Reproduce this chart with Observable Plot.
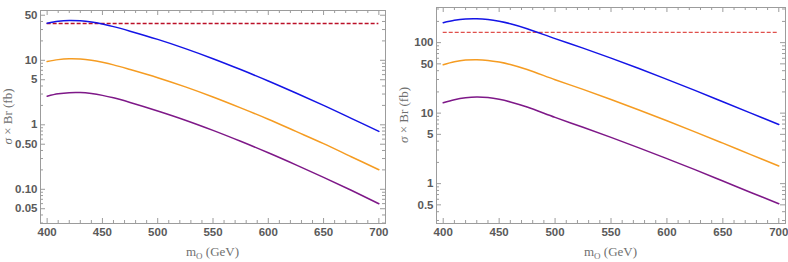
<!DOCTYPE html>
<html>
<head>
<meta charset="utf-8">
<script src="https://cdn.jsdelivr.net/npm/d3@7"></script>
<script src="https://cdn.jsdelivr.net/npm/@observablehq/plot@0.6"></script>
<style>
  body { margin: 0; background: #fff; }
  #row { display: flex; width: 788px; height: 262px; overflow: hidden; }
  #row svg { display: block; flex: none; }
</style>
</head>
<body>
<div id="row"></div>
<script>
// Octet mass grid (GeV)
const masses = [400, 410, 420, 430, 440, 450, 460, 475, 500, 525, 550, 575, 600, 625, 650, 675, 700];

// Left panel: sigma x Br (fb)
const leftBlue   = [37.6, 40.3, 41.4, 40.9, 39.2, 36.5, 33.3, 28.3, 21.1, 15.2, 10.6, 7.19, 4.78, 3.11, 2.0, 1.26, 0.791];
const leftOrange = [9.57, 10.25, 10.55, 10.45, 10.0, 9.3, 8.5, 7.2, 5.37, 3.87, 2.7, 1.83, 1.22, 0.79, 0.51, 0.32, 0.201];
const leftPurple = [2.78, 3.02, 3.15, 3.16, 3.05, 2.86, 2.62, 2.22, 1.64, 1.18, 0.82, 0.555, 0.368, 0.239, 0.153, 0.0965, 0.0598];
const leftLimit  = 37.2;

// Right panel: sigma x Br (fb)
const rightBlue   = [192, 207.5, 216.3, 217.8, 212.3, 200.9, 185.4, 157.8, 114.0, 83.6, 60.3, 42.9, 30.1, 21.0, 14.5, 10.0, 6.89];
const rightOrange = [48.6, 53.5, 56.5, 57.2, 56.0, 53.0, 48.9, 41.5, 29.8, 21.7, 15.6, 11.1, 7.8, 5.43, 3.75, 2.58, 1.78];
const rightPurple = [14.0, 15.5, 16.5, 16.9, 16.6, 15.7, 14.4, 12.2, 8.7, 6.3, 4.53, 3.22, 2.26, 1.58, 1.09, 0.75, 0.518];
const rightLimit  = 140;

// Tick values and labels
const xTicks = [400, 450, 500, 550, 600, 650, 700];
const xTickLabels = ["400", "450", "500", "550", "600", "650", "700"];
const leftYTicks = [0.05, 0.1, 0.5, 1, 5, 10, 50];
const leftYTickLabels = ["0.05", "0.10", "0.50", "1", "5", "10", "50"];
const rightYTicks = [0.5, 1, 5, 10, 50, 100];
const rightYTickLabels = ["0.5", "1", "5", "10", "50", "100"];

const GREY = "#9c9c9c";
const LABEL = "#5a5a5a";
const COLORS = {blue: "#1414e6", orange: "#f59c22", purple: "#7e1888"};
const W = 394, H = 262, MB = 39;

function series(values) {
  return masses.map((m, i) => ({m, v: values[i]}));
}

function panel({blue, orange, purple, limit, limitColor, yDomain, yTicks, yTickLabels, marginLeft, marginRight, marginTop}) {
  const pw = W - marginLeft - marginRight;
  const ph = H - marginTop - MB;
  const xMinor = d3.range(400, 701, 10).filter(d => !xTicks.includes(d));
  const yMinor = [];
  for (let e = -3; e <= 3; e++) {
    for (let k = 1; k < 10; k++) {
      const v = +(k * 10 ** e).toPrecision(3);
      if (v >= yDomain[0] && v <= yDomain[1] && !yTicks.includes(v)) yMinor.push(v);
    }
  }

  // inward-pointing frame ticks on all four sides
  const major = 5, minor = 3;
  const frameTicks = [
    Plot.tickX(xTicks, {x: d => d, stroke: GREY, insetTop: ph - major}),
    Plot.tickX(xMinor, {x: d => d, stroke: GREY, insetTop: ph - minor}),
    Plot.tickX(xTicks, {x: d => d, stroke: GREY, insetBottom: ph - major}),
    Plot.tickX(xMinor, {x: d => d, stroke: GREY, insetBottom: ph - minor}),
    Plot.tickY(yTicks, {y: d => d, stroke: GREY, insetRight: pw - major}),
    Plot.tickY(yMinor, {y: d => d, stroke: GREY, insetRight: pw - minor}),
    Plot.tickY(yTicks, {y: d => d, stroke: GREY, insetLeft: pw - major}),
    Plot.tickY(yMinor, {y: d => d, stroke: GREY, insetLeft: pw - minor})
  ];

  const textStyle = {fill: LABEL, fontWeight: "bold", fontSize: 11.5, fontFamily: "Liberation Sans, Arial, sans-serif"};

  const svg = Plot.plot({
    width: W,
    height: H,
    marginLeft, marginRight, marginTop,
    marginBottom: MB,
    x: {domain: [394, 706], axis: null},
    y: {type: "log", domain: yDomain, axis: null},
    style: {background: "white", fontFamily: "Liberation Sans, Arial, sans-serif"},
    marks: [
      Plot.frame({stroke: GREY}),
      ...frameTicks,
      Plot.text(xTicks, {...textStyle, x: d => d, frameAnchor: "bottom", lineAnchor: "top", dy: 4,
        text: d => xTickLabels[xTicks.indexOf(d)]}),
      Plot.text(yTicks, {...textStyle, y: d => d, frameAnchor: "left", textAnchor: "end", dx: -3,
        text: d => yTickLabels[yTicks.indexOf(d)]}),
      Plot.ruleY([limit], {x1: 400, x2: 700, stroke: limitColor, strokeWidth: 1.3, strokeDasharray: "4,2"}),
      Plot.line(series(purple), {x: "m", y: "v", stroke: COLORS.purple, strokeWidth: 1.5, curve: "catmull-rom"}),
      Plot.line(series(orange), {x: "m", y: "v", stroke: COLORS.orange, strokeWidth: 1.5, curve: "catmull-rom"}),
      Plot.line(series(blue), {x: "m", y: "v", stroke: COLORS.blue, strokeWidth: 1.5, curve: "catmull-rom"})
    ]
  });

  // axis titles in a serif face, with the subscript on m
  const s = d3.select(svg);
  const cx = marginLeft + pw / 2;
  const xt = s.append("text")
    .attr("x", cx).attr("y", 256)
    .attr("text-anchor", "middle")
    .attr("font-family", "Liberation Serif, DejaVu Serif, serif")
    .attr("font-size", 13)
    .attr("fill", "#707070");
  xt.append("tspan").text("m");
  xt.append("tspan").attr("font-size", 9).attr("dy", 2.5).text("O");
  xt.append("tspan").attr("dy", -2.5).text(" (GeV)");

  const cy = marginTop + ph / 2;
  const yt = s.append("text")
    .attr("transform", `translate(${marginLeft - 28},${cy}) rotate(-90)`)
    .attr("text-anchor", "middle")
    .attr("font-family", "Liberation Serif, DejaVu Serif, serif")
    .attr("font-size", 13)
    .attr("fill", "#707070");
  yt.append("tspan").attr("font-style", "italic").text("σ");
  yt.append("tspan").text(" × Br (fb)");

  return svg;
}

const row = document.getElementById("row");
row.append(panel({
  blue: leftBlue, orange: leftOrange, purple: leftPurple,
  limit: leftLimit, limitColor: "#bb1028",
  yDomain: [0.0295, 59.2], yTicks: leftYTicks, yTickLabels: leftYTickLabels,
  marginLeft: 40, marginRight: 9, marginTop: 10
}));
row.append(panel({
  blue: rightBlue, orange: rightOrange, purple: rightPurple,
  limit: rightLimit, limitColor: "#e0504c",
  yDomain: [0.272, 315], yTicks: rightYTicks, yTickLabels: rightYTickLabels,
  marginLeft: 42, marginRight: 3, marginTop: 7
}));
</script>
</body>
</html>
